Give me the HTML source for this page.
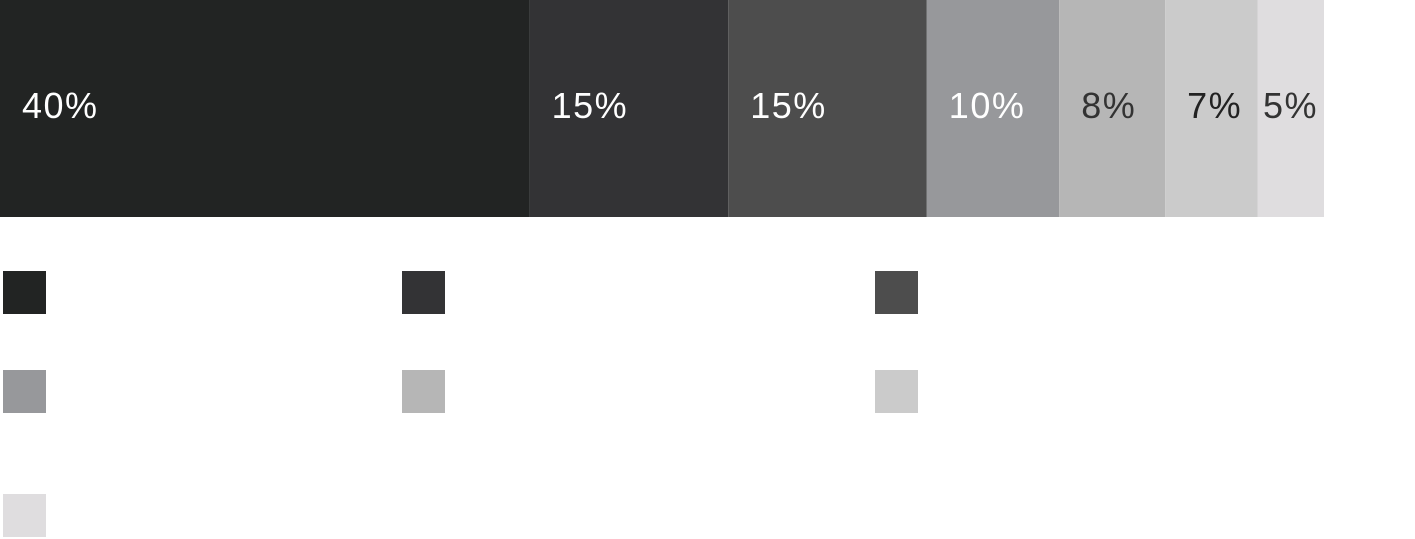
<!DOCTYPE html>
<html><head><meta charset="utf-8"><style>
html,body{margin:0;padding:0;background:#fff;width:1415px;height:539px;overflow:hidden}
svg{display:block}
text{font-family:"Liberation Sans",sans-serif;font-size:36px;letter-spacing:1.5px}
</style></head><body>
<svg id="chart" width="1415" height="539"></svg>
<script>
const categories = ["A","B","C","D","E","F","G"];
const values = [40,15,15,10,8,7,5];
const labels = ["40%","15%","15%","10%","8%","7%","5%"];
const colors = ["#222423","#333335","#4d4d4d","#97989b","#b6b6b6","#cbcbcb","#dfdddf"];
const textColors = ["#fff","#fff","#fff","#fff","#333","#222","#333"];
const svg = document.getElementById('chart');
const NS = 'http://www.w3.org/2000/svg';
const total = values.reduce((a,b)=>a+b,0);
const W = 1324, H = 217;
const xs = v => v / total * W;
let acc = 0;
values.forEach((v,i)=>{
  const x0 = xs(acc), w = xs(v);
  const r = document.createElementNS(NS,'rect');
  r.setAttribute('x',x0); r.setAttribute('y',0); r.setAttribute('width',w); r.setAttribute('height',H);
  r.setAttribute('fill',colors[i]);
  
  
  svg.appendChild(r);
  const t = document.createElementNS(NS,'text');
  t.setAttribute('y',118);
  t.setAttribute('fill',textColors[i]);
  t.textContent = labels[i];
  
  
  svg.appendChild(t);
  const tw = t.getComputedTextLength();
  t.setAttribute('x', Math.min(x0 + 22, x0 + w - tw - 6));
  acc += v;
});
const lx = [3,402,875], ly = [271,370,494];
categories.forEach((c,i)=>{
  const r = document.createElementNS(NS,'rect');
  r.setAttribute('x', i<6 ? lx[i%3] : lx[0]);
  r.setAttribute('y', i<6 ? ly[Math.floor(i/3)] : ly[2]);
  r.setAttribute('width',43); r.setAttribute('height',43);
  r.setAttribute('fill',colors[i]);
  
  
  svg.appendChild(r);
});
</script>
</body></html>
